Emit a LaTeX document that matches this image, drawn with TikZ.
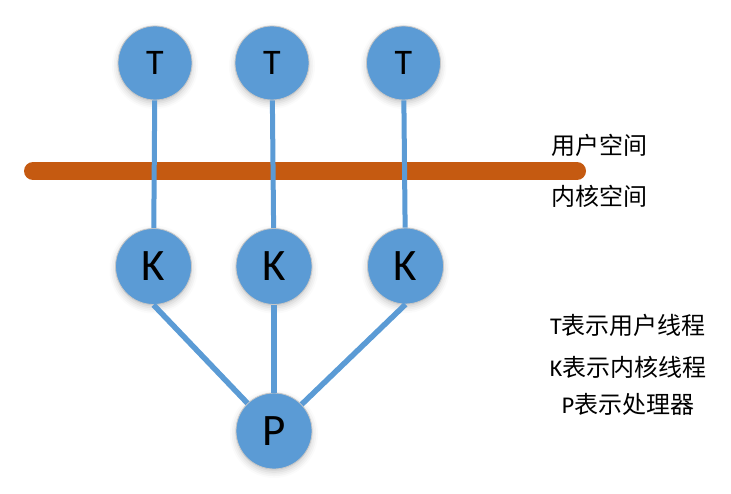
\documentclass[tikz,border=0pt]{standalone}
\usepackage{fontspec}
\setmainfont{Carlito}
\newfontfamily\cjk{Noto Sans CJK SC}
\usetikzlibrary{shadows.blur}
\definecolor{nodeblue}{HTML}{5B9BD5}
\definecolor{barorange}{HTML}{C55A11}
\begin{document}
\begin{tikzpicture}[x=1pt,y=-1pt,
  ball/.style={circle, fill=nodeblue, draw=black!22, line width=0.8pt, minimum size=76pt, inner sep=0pt,
    blur shadow={shadow xshift=0pt, shadow yshift=-3pt, shadow blur radius=6pt, shadow opacity=22}},
  tball/.style={ball, minimum size=74pt, font=\fontsize{36}{36}\selectfont},
  kball/.style={ball, font=\fontsize{45}{45}\selectfont},
  uplink/.style={draw=nodeblue, line width=5pt},
  downlink/.style={draw=nodeblue, line width=5.5pt},
  lbl/.style={font=\fontsize{24}{26}\selectfont, anchor=west, inner sep=0pt},
  legend/.style={font=\fontsize{24}{26}\selectfont, inner sep=0pt}
]
\useasboundingbox (0,0) rectangle (731,494);
% separator bar
\draw[barorange, line width=18pt, line cap=round] (33,171) -- (577,171);
% nodes
\node[tball] (T1) at (155,63) {T};
\node[tball] (T2) at (272,63) {T};
\node[tball] (T3) at (403.5,63) {T};
\node[kball] (K1) at (153.5,266.5) {K};
\node[kball] (K2) at (274,266.5) {K};
\node[kball] (K3) at (405.5,266) {K};
\node[kball] (P) at (274,431) {P};
% connectors
\draw[uplink] (T1) -- (K1);
\draw[uplink] (T2) -- (K2);
\draw[uplink] (T3) -- (K3);
\draw[downlink] (K1.south) -- (P);
\draw[downlink] (K2) -- (P);
\draw[downlink] (K3.south) -- (P);
% labels
\node[lbl] (us) at (551,145) {\cjk 用户空间};
\node[lbl] (ks) at (551,196) {\cjk 内核空间};
\node[legend] (lt) at (628,325) {T{\cjk 表示用户线程}};
\node[legend] (lk) at (628,367) {K{\cjk 表示内核线程}};
\node[legend] (lp) at (628,404) {P{\cjk 表示处理器}};
\end{tikzpicture}
\end{document}
